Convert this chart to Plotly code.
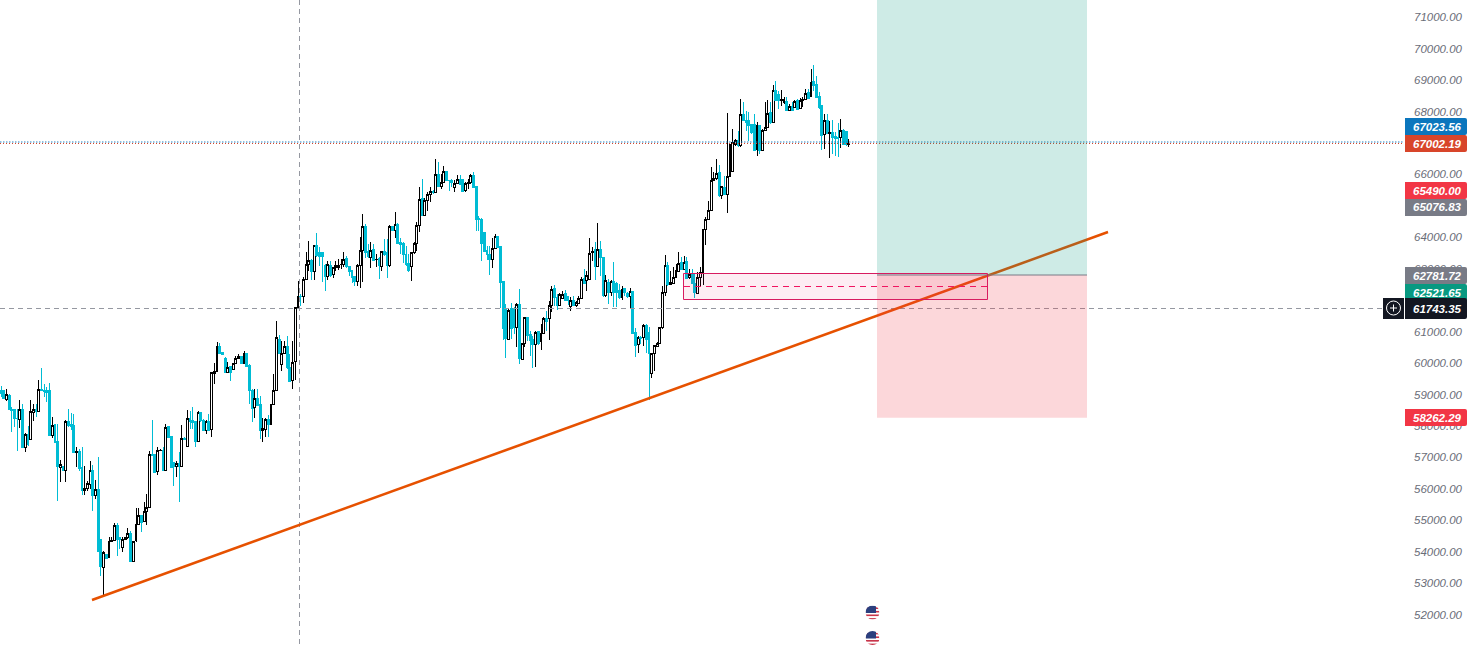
import base64
import plotly.graph_objects as go

opens = [59143,59122,58857,58984,58539,58528,58253,58221,58539,57320,
57744,57564,58433,58539,58465,59175,59143,59122,59122,57691,
58062,57500,56684,56705,56599,58136,58062,58009,57161,57182,
56684,55963,56016,56154,56599,55804,55995,54405,53504,53928,
53822,54310,54373,54829,54458,54140,54394,54458,54596,53684,
54352,54882,55147,54977,55285,55412,57108,57087,56546,57214,
57235,56599,57977,57659,56843,56716,56822,56716,57617,57352,
58253,58168,58136,57511,58422,58189,57871,58136,57903,59673,
59737,60521,60330,60161,59705,59885,59811,60002,60161,60203,
60002,60320,59917,59143,58592,58889,58677,57871,57903,58221,
58062,58698,59122,60765,59949,60309,60521,59864,59440,60057,
61753,62134,62113,62675,63152,63279,62919,63735,63523,63523,
63120,62770,63099,62834,63046,63046,63131,63131,63343,63067,
62940,62749,62601,63120,63576,64339,63544,63364,63608,63290,
63343,63078,63544,63523,63099,64339,64233,64424,63841,63820,
63470,63173,63078,63512,63820,64392,65240,64689,65166,65378,
65463,65442,66014,65622,65749,66088,65823,65823,65590,65728,
65855,65834,65484,65717,65749,65961,65611,64604,64583,64159,
63576,63470,63311,63661,64042,63703,62590,61721,60746,61721,
61700,61117,61859,60110,60608,61456,60894,60735,60587,61000,
60693,60926,61403,61403,61848,62388,62092,61848,62039,62198,
62113,61806,62007,61848,61901,62060,62696,62622,62675,63523,
63629,63078,63629,63364,62145,62548,62251,62590,62537,62304,
62092,62378,62219,62113,62283,60979,60576,60820,60799,61191,
60979,59654,60290,60534,60608,61117,62251,63099,62516,62537,
62728,62919,63205,62993,63226,62707,62834,62537,62219,62728,
62866,64265,64583,64869,65823,65887,66067,65325,65590,65378,
65940,66088,66947,67095,66936,67901,67731,67710,67583,67583,
66809,67551,66777,67392,67498,67975,67657,68685,68558,68367,
68293,68325,68049,68166,68134,68346,68102,68367,68399,68611,
68473,68950,68876,68473,68187,67286,67731,67318,67339,67201,
67180,67180,67392,67371,66957]

closes = [59037,58889,59016,58528,58486,58242,58232,58539,57320,57744,
57405,58454,58539,58465,59175,59122,59101,59069,57691,58030,
57479,56705,56790,56599,58136,58009,57988,57161,57182,56663,
55963,56027,56186,56599,55804,55995,54013,53525,53970,53801,
54320,54373,54829,54384,54384,54394,54458,54596,53684,54331,
54882,55147,54935,55285,55412,57108,57055,56525,57214,57235,
56578,57967,57638,56684,56705,56822,56705,57606,57585,58253,
58147,58115,57511,58422,58168,57871,58136,57871,59694,59737,
60521,60309,60288,59705,59864,59705,60002,60161,60203,60002,
60320,59885,59122,58560,58889,58666,57850,57935,58221,58062,
58698,59122,60818,60309,60309,60521,59864,59419,60023,61753,
62134,62113,62675,63152,63279,62919,63735,63417,63385,63385,
62749,63152,62802,63046,63099,63120,63152,63311,63067,62919,
62707,62601,63120,63576,64339,63523,63385,63597,63279,63311,
63099,63544,63470,63099,64339,64212,64424,63809,63767,63449,
63131,62961,63512,63820,64392,65219,64689,65166,65378,65463,
65431,66014,65622,65749,66088,65802,65802,65749,65728,65855,
65696,65452,65717,65749,65972,65590,64583,64562,63809,63544,
63449,63290,63661,64021,63682,62569,61085,60767,61689,61085,
61117,61859,60131,60608,61435,60873,60714,60587,60979,60608,
60926,61403,61329,61848,62357,62092,61827,62177,62177,61986,
61986,62007,61827,61933,62060,62675,62537,62802,63502,63544,
63067,63629,63364,62145,62622,62251,62590,62251,62251,62092,
62357,62251,62113,62262,60947,60555,60799,60767,61191,60735,
60290,60290,60555,60608,61117,62251,63099,62516,62548,62728,
62940,63184,62993,63205,62696,62834,62537,62230,62728,62866,
64265,64583,64869,65823,65887,66046,65325,65611,65378,65940,
66947,67032,67095,66915,67901,67731,67657,67551,67339,66777,
67551,66756,67392,67498,67954,67657,68685,68367,68346,68399,
68399,68049,68166,68028,68325,68081,68367,68399,68590,68431,
68929,68844,68452,68134,67233,67731,67318,67339,67180,67159,
67159,67413,66968,66968,66989]

highs = [59281,59122,59175,59016,58613,58528,58539,58825,58698,57765,
58009,58825,58698,58698,59461,59843,59334,59228,59366,58295,
58062,58062,56917,56705,58189,58539,58401,58380,57320,57267,
57341,56737,56260,56875,56769,56281,57023,54405,54013,53928,
54458,54458,54903,54903,54458,54479,54458,54744,54649,54352,
55380,55380,55179,55571,55836,57214,58189,57108,57320,57270,
57341,58062,58009,57691,56843,56875,57182,58041,57640,58507,
58465,58592,58168,58486,58444,58210,58189,58380,59694,59991,
60680,60648,60350,60182,60044,59917,60002,60235,60288,60203,
60394,60320,59970,59175,59175,59175,58963,58253,58253,58359,
58698,59652,61350,60900,60712,60712,60871,60288,60712,61774,
62622,62198,62749,63544,63894,63311,63756,64138,63682,63523,
63152,63258,63237,63067,63258,63311,63311,63544,63417,63099,
62961,62781,63152,64021,64742,64424,63788,63841,63788,63470,
63364,63576,63947,63947,64403,64371,64816,64445,63979,63841,
63735,63470,63540,63862,64477,65590,65855,65251,65431,65611,
65500,66491,66406,66014,66279,66120,65823,65855,65823,65993,
65993,65855,65750,65855,66014,66088,65611,64689,64604,64180,
63714,63720,63990,64106,64042,63735,62590,61880,61721,61922,
61770,61901,62357,60630,61456,61477,61032,60873,61032,61032,
61244,61456,61647,61965,62463,62495,62198,62219,62304,62325,
62145,62092,62124,61990,62145,62749,63000,62919,63979,63682,
63841,64456,63894,63364,62813,62675,62643,63205,62569,62516,
62463,62378,62251,62389,62304,61106,60873,60873,61244,61244,
61138,60290,60555,60661,61138,62463,63449,63205,62940,63067,
63152,63523,63364,63417,63364,62993,62993,62834,62887,63046,
64265,64636,65145,66247,66067,66491,66311,65611,65961,67943,
66968,67445,67127,67392,68399,68314,68028,67975,67604,67922,
67678,67583,67445,68293,68367,68293,68855,68982,68643,68685,
68452,68452,68240,68293,68367,68399,68431,68452,68717,68717,
69353,69480,69141,68611,68187,67922,67922,67710,67731,67339,
67625,67763,67445,67392,67127]

lows = [58931,58880,58804,58507,57797,57977,57193,57935,57299,57161,
57373,57553,58168,58295,58433,59122,58931,58751,57691,57617,
57447,55624,56207,56578,56207,57977,57871,57161,56705,56578,
55815,55815,55942,55995,55285,55677,54013,53239,52550,53801,
53822,54299,54352,53875,54087,53981,54394,54405,53663,53663,
54320,54861,54617,54967,54850,55412,57055,56514,56440,57190,
56557,56578,57617,56684,56101,56366,55571,56684,57560,57341,
57903,57903,57341,57511,58136,57850,57744,57850,57638,59334,
59705,60288,60266,59684,59684,59419,59790,59970,60129,59970,
59970,59864,58698,58115,58253,58645,57585,57500,57638,57638,
58062,58698,59122,60288,59737,60288,59810,59387,59175,59463,
61721,61816,61901,62643,62919,62643,62643,63385,63099,62569,
62304,62654,62749,62707,62940,62961,62993,63046,63025,62781,
62537,62463,62463,62389,62569,63343,63343,63025,63237,63067,
62675,62940,63417,62696,63067,64191,63979,63788,63470,63173,
63099,62887,62622,63470,63576,64159,64689,64668,64848,65113,
65378,65431,65590,65537,65728,65781,65463,65590,65431,65696,
65696,65431,65431,65537,65696,65569,64212,64212,63258,63523,
63279,62813,63025,63629,63661,61753,60735,60152,60735,60767,
60926,60502,59972,60099,60502,60692,60237,59834,59887,60587,
60428,60926,61032,60735,61636,61827,61689,61827,62039,61965,
61859,61668,61806,61774,61880,62039,62516,62283,62643,63258,
62643,63078,62781,62113,62113,61880,62145,61795,61795,62039,
62018,62145,62071,61721,60926,60205,60311,60608,60555,60311,
58838,59527,59760,60502,60608,61085,62145,62463,62495,62516,
62707,62887,62961,62961,62675,62675,62516,62060,62198,62463,
62484,63767,64551,64848,65781,65823,65293,65219,65378,64763,
65908,66088,66915,66883,66883,67710,67392,67074,67286,66756,
66597,66650,66756,67371,67477,67604,67636,68346,68081,68187,
68240,68028,68028,68007,68113,68060,68081,68134,68378,68399,
68452,68664,68431,68081,66777,66809,67286,66512,66650,66597,
66544,66841,66947,66915,66883]

tick_prices = list(range(51000, 72000, 1000))
tick_labels = [f"{p}.00" for p in tick_prices]

price_tags = ["67023.56", "67002.19", "65490.00", "65076.83", "62781.72", "62521.65", "58262.29"]
tag_colors = ["#0b76bd", "#d8452a", "#f23645", "#787b86", "#787b86", "#089981", "#f23645"]
tag_tops = [118, 135, 182, 199, 267, 284, 409]

PX = 2.7
W, H, PLOT_W = 1471, 646, 1404
x_of = lambda px: (px - 1) / PX
xp = lambda px: px / PLOT_W
yp = lambda py: 1 - py / H
price_at = lambda py: 70000 - (py - 48.7) / 0.03144

bars = list(range(len(closes)))
fig = go.Figure(go.Candlestick(
    x=bars, open=opens, high=highs, low=lows, close=closes,
    increasing=dict(line=dict(color="#000000", width=1), fillcolor="#ffffff"),
    decreasing=dict(line=dict(color="#00bcd4", width=1), fillcolor="#00bcd4"),
    whiskerwidth=0, hoverinfo="skip", showlegend=False))

shapes = []
def line(x0, p0, x1, p1, color, width=1, dash="solid"):
    shapes.append(dict(type="line", x0=x0, x1=x1, y0=p0, y1=p1, xref="x", yref="y",
                       line=dict(color=color, width=width, dash=dash), layer="above"))
def box(x0, p0, x1, p1, fill, border=None, width=0):
    shapes.append(dict(type="rect", x0=x0, x1=x1, y0=p0, y1=p1, xref="x", yref="y",
                       fillcolor=fill, line=dict(color=border or "rgba(0,0,0,0)", width=width), layer="above"))

# dotted last-price lines and crosshair
line(x_of(0), price_at(142), x_of(PLOT_W), price_at(142), "rgba(11,118,189,0.6)", 1.5, "1.5px,1.5px")
line(x_of(0), price_at(143.5), x_of(PLOT_W), price_at(143.5), "#d8452a", 1, "1px,2px")
line(x_of(299.5), price_at(0), x_of(299.5), price_at(646), "#9598a1", 1, "5px,4px")
line(x_of(0), price_at(308.5), x_of(1384), price_at(308.5), "#9598a1", 1, "5px,4px")
# trend line under the position boxes
line(x_of(92), price_at(600), x_of(1108), price_at(232), "#e65100", 2.5)
# long position
box(x_of(877), price_at(275), x_of(1087), price_at(-2), "rgba(8,153,129,0.2)")
box(x_of(877), 58262.29, x_of(1087), price_at(275), "rgba(242,54,69,0.2)")
line(x_of(877), price_at(275), x_of(1087), price_at(275), "#787b86", 1)
# order-block rectangle
box(x_of(683.5), price_at(299.5), x_of(987.5), price_at(273.5), "rgba(233,30,99,0.08)", "#d81b60", 1)
line(x_of(684), price_at(286.5), x_of(987), price_at(286.5), "#f01560", 1, "6px,5px")

annotations = []
def rounded(x0, x1, y0, y1, color):
    r = 2
    path = (f"M{xp(x0)},{yp(y0)} L{xp(x1-r)},{yp(y0)} Q{xp(x1)},{yp(y0)} {xp(x1)},{yp(y0+r)} "
            f"L{xp(x1)},{yp(y1-r)} Q{xp(x1)},{yp(y1)} {xp(x1-r)},{yp(y1)} L{xp(x0)},{yp(y1)} Z")
    shapes.append(dict(type="path", path=path, xref="paper", yref="paper",
                       fillcolor=color, line=dict(width=0), layer="above"))
def tag(text, top, bottom, color):
    rounded(1405, 1467, top, bottom, color)
    annotations.append(dict(text=f"<i>{text}</i>", x=xp(1437.5), y=yp((top + bottom) / 2),
                            xref="paper", yref="paper", showarrow=False, xanchor="center", yanchor="middle",
                            font=dict(family="Liberation Sans", size=11.5, color="#ffffff", weight=600)))

for t, c, y0 in zip(price_tags, tag_colors, tag_tops):
    tag(t, y0, y0 + 17, c)
tag("61743.35", 298, 319, "#131722")
# plus button
shapes.append(dict(type="rect", xref="paper", yref="paper", x0=xp(1383), x1=xp(1404), y0=yp(319), y1=yp(298),
                   fillcolor="#131722", line=dict(width=0), layer="above"))
shapes.append(dict(type="circle", xref="paper", yref="paper", x0=xp(1386.5), x1=xp(1400.5), y0=yp(315), y1=yp(301),
                   fillcolor="rgba(0,0,0,0)", line=dict(color="#ffffff", width=1), layer="above"))
shapes.append(dict(type="line", xref="paper", yref="paper", x0=xp(1390), x1=xp(1397), y0=yp(308), y1=yp(308),
                   line=dict(color="#ffffff", width=1), layer="above"))
shapes.append(dict(type="line", xref="paper", yref="paper", x0=xp(1393.5), x1=xp(1393.5), y0=yp(304.5), y1=yp(311.5),
                   line=dict(color="#ffffff", width=1), layer="above"))

stripes = "".join(f'<rect x="0" y="{i*3.6:.1f}" width="28" height="3.6" fill="{"#c8354a" if i % 2 == 1 else "#ffffff"}"/>' for i in range(8))
flag_svg = ('<svg xmlns="http://www.w3.org/2000/svg" viewBox="0 0 28 28"><defs><clipPath id="c"><circle cx="14" cy="14" r="14"/></clipPath></defs>'
            f'<g clip-path="url(#c)"><rect width="28" height="28" fill="#fff"/>{stripes}<rect width="21" height="15" fill="#2b3f7e"/></g></svg>')
flag_uri = "data:image/svg+xml;base64," + base64.b64encode(flag_svg.encode()).decode()
images = [dict(source=flag_uri, xref="paper", yref="paper", x=xp(865.5), y=yp(cy - 7), sizex=14 / PLOT_W, sizey=14 / H,
               xanchor="left", yanchor="top", sizing="stretch", layer="above") for cy in (612.5, 638)]

fig.update_layout(
    width=W, height=H, margin=dict(l=0, r=W - PLOT_W, t=0, b=0),
    paper_bgcolor="#ffffff", plot_bgcolor="#ffffff", showlegend=False, boxgap=0.0,
    xaxis=dict(range=[x_of(0), x_of(PLOT_W)], visible=False, rangeslider=dict(visible=False), fixedrange=True),
    yaxis=dict(range=[price_at(646), price_at(0)], side="right", showgrid=False, zeroline=False, showline=False,
               ticks="", tickvals=tick_prices, ticktext=tick_labels, ticklabelstandoff=9,
               tickfont=dict(family="Liberation Sans", size=11.5, color="#6a6d78", style="italic"), fixedrange=True),
    shapes=shapes, annotations=annotations, images=images)

assert len(opens) == len(closes) == len(highs) == len(lows)
page_js = ("document.body.style.margin='0';document.body.style.overflow='hidden';"
           "var s=document.createElement('style');"
           "s.textContent='.boxlayer path{shape-rendering:crispEdges}';"
           "document.head.appendChild(s);")
fig.write_html("out.html", config=dict(displayModeBar=False), post_script=page_js)
